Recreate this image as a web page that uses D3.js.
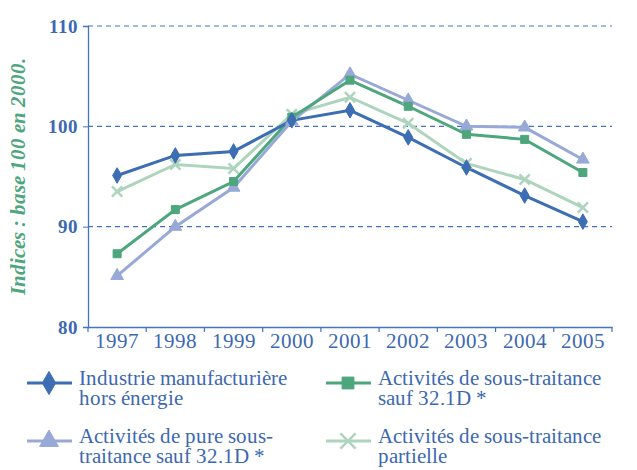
<!DOCTYPE html>
<html><head><meta charset="utf-8"><script src="https://cdn.jsdelivr.net/npm/d3@7"></script>
<style>
  @font-face { font-family: 'ChartSerif'; font-weight: 400; font-style: normal; src: local('Liberation Serif'), local('LiberationSerif'), local('Times New Roman'); }
  @font-face { font-family: 'ChartSerif'; font-weight: 700; font-style: normal; src: local('Liberation Serif Bold'), local('LiberationSerif-Bold'), local('Times New Roman Bold'); }
  @font-face { font-family: 'ChartSerif'; font-weight: 700; font-style: italic; src: local('Liberation Serif Bold Italic'), local('LiberationSerif-BoldItalic'), local('Times New Roman Bold Italic'); }
  svg text { font-family: ChartSerif, "Liberation Serif", "Times New Roman", Tinos, serif; }
</style>
</head>
<body style="margin:0">
<svg width="637" height="470"></svg>
<script>
const years = ['1997', '1998', '1999', '2000', '2001', '2002', '2003', '2004', '2005'];
const industrie = [95.1, 97.1, 97.5, 100.6, 101.6, 98.9, 95.9, 93.1, 90.5];
const sousTraitance = [87.3, 91.7, 94.5, 100.9, 104.6, 102.0, 99.2, 98.7, 95.4];
const pureSousTraitance = [85.1, 90.0, 93.9, 100.5, 105.2, 102.6, 100.0, 99.9, 96.7];
const partielle = [93.5, 96.2, 95.8, 101.2, 102.9, 100.3, 96.3, 94.7, 91.9];
const yTicks = [80, 90, 100, 110];

const series = [
  { name: ['Industrie manufacturière', 'hors énergie'], values: industrie, color: '#3d6db3', shape: d3.symbolDiamond, size: 70 },
  { name: ['Activités de sous-traitance', 'sauf 32.1D *'], values: sousTraitance, color: '#4ea67c', shape: d3.symbolSquare, size: 64 },
  { name: ['Activités de pure sous-', 'traitance sauf 32.1D *'], values: pureSousTraitance, color: '#98a9d8', shape: d3.symbolTriangle, size: 70 },
  { name: ['Activités de sous-traitance', 'partielle'], values: partielle, color: '#afd4be', shape: d3.symbolX, size: 70 }
];

const axisColor = '#4472c4';
const textColor = '#3c68b1';

const svg = d3.select('svg');
const x = d3.scaleBand().domain(years).range([88, 612]);
const y = d3.scaleLinear().domain([80, 110]).range([327, 26]);

// grille
svg.append('g').selectAll('line')
  .data(yTicks.filter(d => d > 80))
  .enter().append('line')
  .attr('x1', 88).attr('x2', 612)
  .attr('y1', d => y(d)).attr('y2', d => y(d))
  .attr('stroke', axisColor).attr('stroke-width', 1.2)
  .attr('stroke-dasharray', '5,4');

// axe Y
const yAxis = svg.append('g')
  .attr('transform', 'translate(88,0)')
  .call(d3.axisLeft(y).tickValues(yTicks).tickSize(5).tickPadding(5));
yAxis.attr('font-family', null);
yAxis.select('.domain').attr('stroke', axisColor).attr('stroke-width', 1.3);
yAxis.selectAll('.tick line').attr('stroke', axisColor);
yAxis.selectAll('.tick text')
  .attr('fill', textColor)
  .style('font-size', '19px').style('font-weight', 'bold');

// axe X
const xAxis = svg.append('g')
  .attr('transform', 'translate(0,327)')
  .call(d3.axisBottom(x).tickSize(0).tickPadding(6));
xAxis.attr('font-family', null);
xAxis.select('.domain').attr('stroke', axisColor).attr('stroke-width', 1.3);
xAxis.selectAll('.tick text')
  .attr('fill', textColor)
  .style('font-size', '21px')
  .attr('dy', '0.72em');
// petites graduations entre les années
svg.append('g').selectAll('line')
  .data(years.concat(['end']))
  .enter().append('line')
  .attr('x1', (d, i) => 88 + i * x.step())
  .attr('x2', (d, i) => 88 + i * x.step())
  .attr('y1', 327).attr('y2', 332)
  .attr('stroke', axisColor).attr('stroke-width', 1.2);

// titre Y
svg.append('text')
  .attr('transform', 'translate(25,176) rotate(-90)')
  .attr('text-anchor', 'middle')
  .attr('fill', '#4ea67c')
  .style('font-size', '21px').style('font-weight', 'bold').style('font-style', 'italic')
  .text('Indices : base 100 en 2000.');

// courbes
const line = d3.line()
  .x((d, i) => x(years[i]) + x.bandwidth() / 2)
  .y(d => y(d));

const draw = series.slice().reverse();
draw.forEach(s => {
  svg.append('path')
    .datum(s.values)
    .attr('d', line)
    .attr('fill', 'none')
    .attr('stroke', s.color)
    .attr('stroke-width', 3);
});
draw.forEach(s => {
  svg.append('g').selectAll('path')
    .data(s.values)
    .enter().append('path')
    .attr('transform', (d, i) => `translate(${x(years[i]) + x.bandwidth() / 2},${y(d)})`)
    .attr('d', d3.symbol().type(s.shape).size(s.size))
    .attr('fill', s.color)
    .attr('stroke', s.color)
    .attr('stroke-width', s.shape === d3.symbolX ? 2.5 : 1);
});

// légende
const legendPos = [[27, 383], [326, 383], [27, 441], [326, 441]];
series.forEach((s, i) => {
  const [lx, ly] = legendPos[i];
  const g = svg.append('g').attr('transform', `translate(${lx},${ly})`);
  g.append('line').attr('x1', 0).attr('x2', 45).attr('y1', 0).attr('y2', 0)
    .attr('stroke', s.color).attr('stroke-width', 3);
  g.append('path').attr('transform', 'translate(22,0)')
    .attr('d', d3.symbol().type(s.shape).size(s.size * 2.2))
    .attr('fill', s.color).attr('stroke', s.color)
    .attr('stroke-width', s.shape === d3.symbolX ? 2.5 : 1);
  const t = g.append('text').attr('x', 52).attr('y', 2)
    .attr('fill', textColor)
    .style('font-size', '21px');
  s.name.forEach((n, j) => {
    t.append('tspan').attr('x', 52).attr('dy', j === 0 ? '0' : '20').text(n);
  });
});
</script>
</body>
</html>
